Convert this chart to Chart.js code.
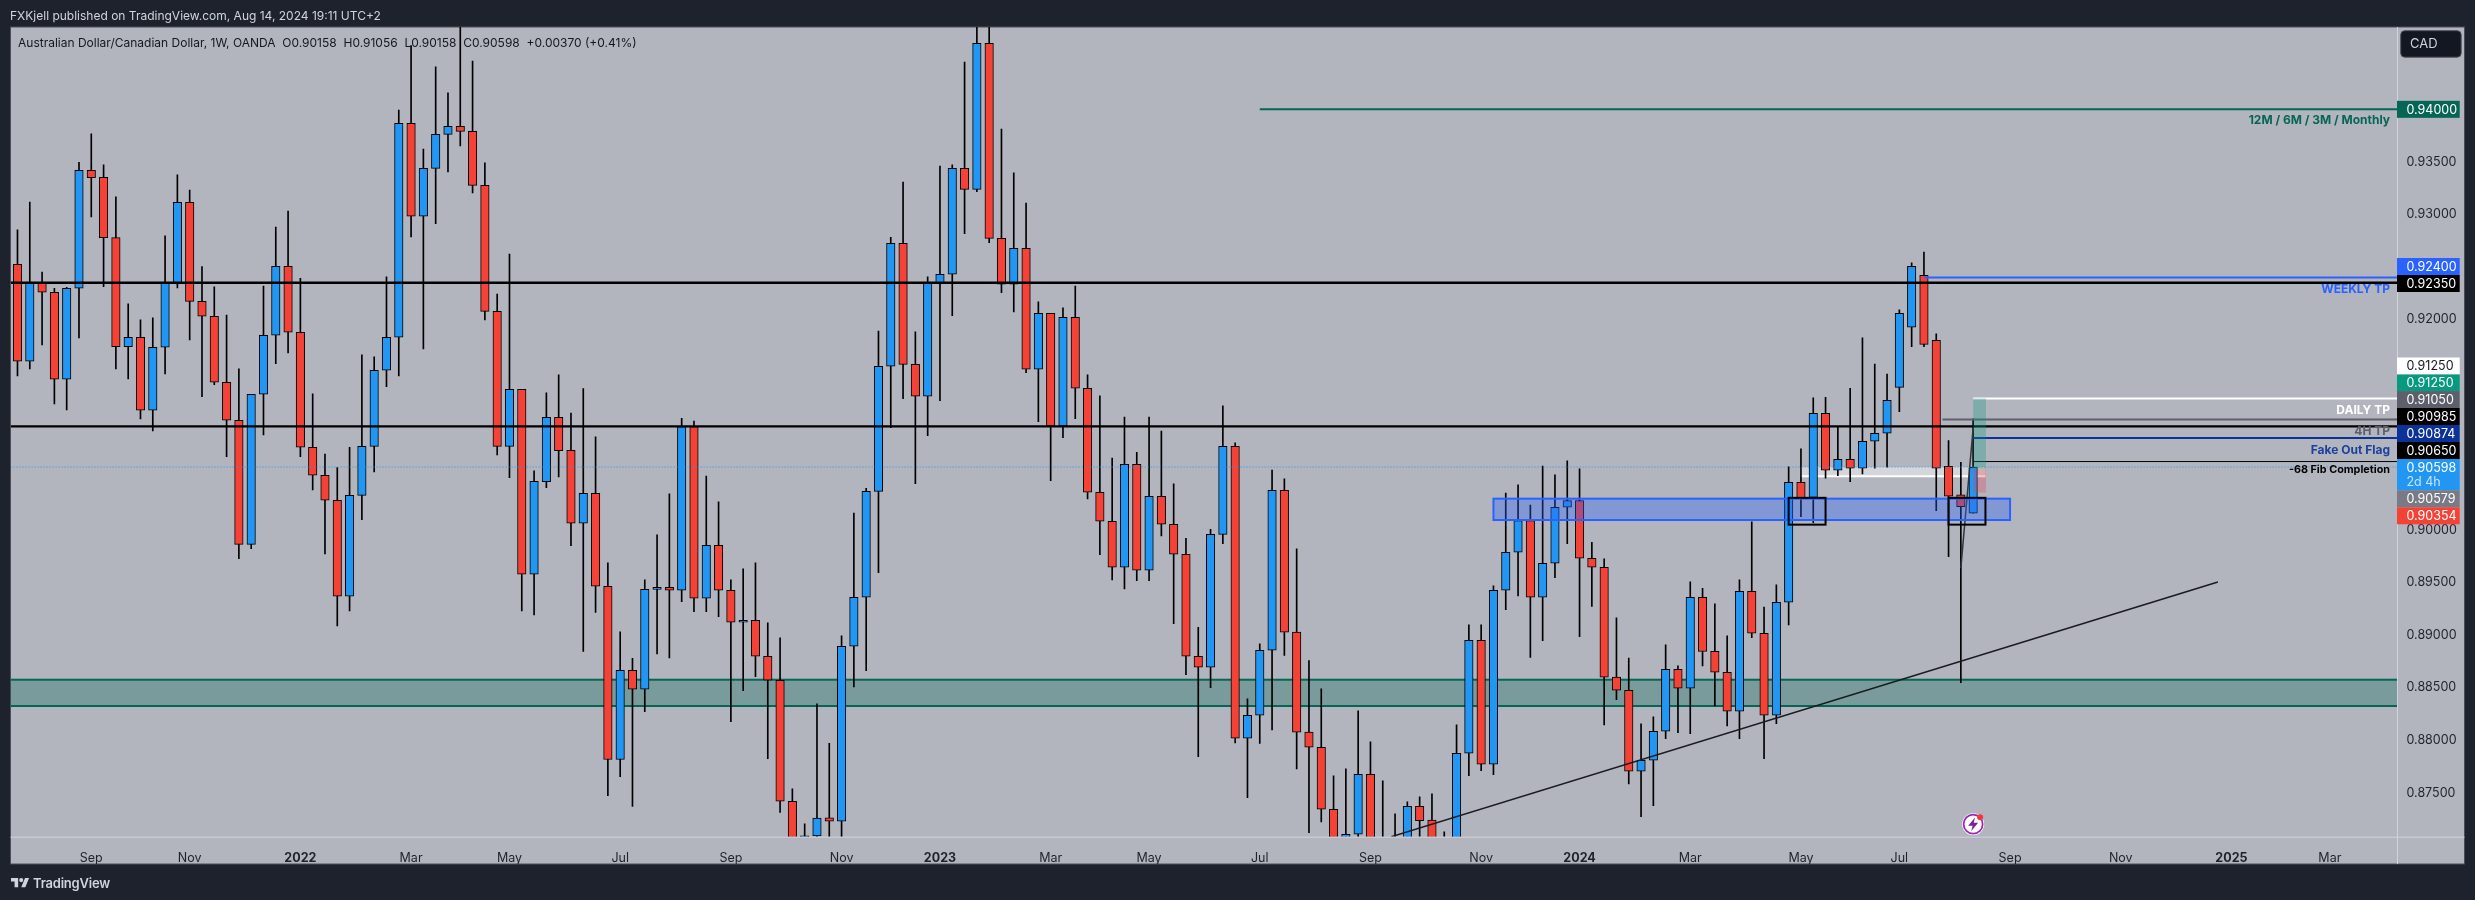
<!DOCTYPE html>
<html><head><meta charset="utf-8"><title>AUDCAD</title>
<script src="https://cdn.jsdelivr.net/npm/chart.js@4/dist/chart.umd.min.js"></script>
<style>
html,body{margin:0;padding:0;background:#1e222d;width:2475px;height:900px;overflow:hidden}
canvas{position:absolute;left:0;top:0}
.t{position:absolute;white-space:pre;font-family:Inter,sans-serif;line-height:16px}
#pub{left:10px;top:8px;font-size:12px;color:#d1d4dc}
#leg{left:18px;top:35px;font-size:12px;color:#131722}
#brand{left:33px;top:875px;font-size:13px;font-weight:600;color:#d1d4dc;letter-spacing:-.2px}
#logo{position:absolute;left:10.6px;top:875.6px}
</style></head><body>
<canvas id="c" width="2475" height="900"></canvas>
<div class="t" id="pub">FXKjell published on TradingView.com, Aug 14, 2024 19:11 UTC+2</div>
<div class="t" id="leg">Australian Dollar/Canadian Dollar, 1W, OANDA  O0.90158  H0.91056  L0.90158  C0.90598  +0.00370 (+0.41%)</div>
<svg id="logo" width="18.4" height="14.3" viewBox="0 0 36 28"><path fill="#d1d4dc" d="M14 22H7V11H0V4h14v18zM28 22h-8l7.5-18h8L28 22z"/><circle fill="#d1d4dc" cx="20" cy="8" r="4"/></svg>
<div class="t" id="brand">TradingView</div>
<script>
const opens=[.92526,.91604,.92345,.92260,.91433,.92298,.93420,.93354,.92780,.91743,.91832,.91138,.91737,.92345,.93116,.92174,.92032,.91404,.91043,.89863,
.91290,.91851,.92507,.91880,.90786,.90520,.90282,.89369,.90329,.90795,.91518,.91832,.93867,.92983,.93439,.93762,.93839,.93791,.93277,.92079,
.90795,.91337,.89578,.90459,.91071,.90757,.90063,.90348,.89464,.87816,.88665,.88484,.89435,.89454,.89426,.90982,.89350,.89854,.89426,.89122,
.89141,.88798,.88570,.87419,.87077,.87090,.87261,.87229,.88893,.89359,.90367,.91556,.92726,.91575,.91271,.92345,.92431,.93439,.93239,.94628,
.92773,.92336,.92678,.91528,.92060,.90989,.92022,.91347,.90358,.90082,.89645,.90624,.89616,.90320,.90054,.89768,.88798,.88694,.89958,.90795,
.88018,.88237,.88855,.90377,.89027,.88076,.87933,.87343,.87052,.87105,.87676,.86988,.86925,.87000,.87372,.87239,.87020,.86990,.87876,.88950,
.87771,.89426,.89787,.90088,.89359,.89683,.90215,.90279,.89730,.89645,.88599,.88475,.87705,.87809,.88085,.88675,.88494,.89359,.88846,.88646,
.88275,.89416,.89017,.88237,.89312,.90453,.90310,.91109,.90567,.90672,.90586,.90843,.90919,.91356,.91927,.92422,.91803,.90605,.90333,.90158];
const highs=[.92853,.93119,.92453,.92298,.92307,.93496,.93766,.93471,.93167,.92149,.91997,.92016,.92796,.93376,.93233,.92504,.92311,.92044,.91531,.91290,
.92320,.92881,.93033,.92393,.91293,.90722,.90592,.90786,.91664,.91645,.92406,.93994,.94606,.93623,.94403,.94156,.94900,.94460,.93490,.92244,
.92624,.91337,.90561,.91303,.91474,.91112,.91344,.90884,.89686,.89030,.88779,.89524,.89952,.90342,.91062,.91036,.90513,.90266,.89524,.89629,
.89686,.89115,.88973,.87537,.87204,.88345,.87971,.88992,.90161,.90396,.91892,.92783,.93309,.91883,.92406,.93461,.93471,.94450,.94850,.94900,
.93813,.93395,.93109,.92168,.92060,.92111,.92320,.91474,.91274,.90684,.91074,.90738,.91074,.90941,.90437,.89920,.89074,.90006,.91179,.90827,
.88393,.88916,.90570,.90485,.89819,.88757,.88488,.87660,.87727,.88278,.87984,.87613,.87299,.87413,.87461,.87489,.87128,.88145,.89096,.89096,
.89467,.90351,.90428,.90237,.90608,.90523,.90656,.90580,.89882,.89724,.89163,.88782,.88155,.88221,.88906,.88706,.89505,.89445,.89296,.88992,
.89524,.90076,.89267,.89477,.90599,.90770,.91255,.91261,.90982,.91347,.91826,.91578,.91483,.92092,.92539,.92643,.91864,.90849,.90643,.91056];
const lows=[.91464,.91531,.91759,.91198,.91141,.91826,.92976,.92314,.91531,.91436,.91055,.90941,.91483,.92301,.91807,.91268,.91382,.90697,.89727,.89822,
.90903,.91582,.91683,.90697,.90380,.89771,.89087,.89229,.90098,.90551,.91363,.91464,.92786,.91721,.92913,.93404,.93652,.93205,.91997,.90713,
.90497,.89229,.89191,.90402,.90504,.89851,.88843,.89214,.87473,.87654,.87369,.88272,.88820,.88782,.89318,.89223,.89223,.89175,.88177,.88472,
.88605,.87825,.87312,.86956,.86956,.86988,.86988,.86988,.88507,.88662,.89594,.90973,.91249,.90440,.90897,.91230,.92038,.92818,.93217,.92732,
.92257,.92073,.91496,.91030,.90469,.90878,.91058,.90295,.89765,.89524,.89439,.89518,.89518,.89943,.89109,.88624,.87844,.88500,.89870,.87974,
.87454,.87968,.88098,.88805,.87727,.87121,.87223,.86925,.86988,.87020,.86925,.86861,.86861,.86900,.86950,.86900,.86900,.86900,.87663,.87711,
.87673,.89242,.89372,.88786,.88947,.89546,.89870,.88985,.89271,.88145,.88386,.87584,.87273,.87378,.88015,.88072,.88063,.88706,.88326,.88136,
.88015,.88976,.87825,.88158,.89096,.90126,.90069,.90491,.90516,.90459,.90532,.90586,.90596,.91125,.91743,.91743,.90184,.89746,.88548,.90158];
const closes=[.91604,.92345,.92260,.91433,.92298,.93420,.93350,.92780,.91743,.91832,.91138,.91737,.92345,.93116,.92174,.92032,.91404,.91043,.89863,.91290,
.91851,.92507,.91880,.90786,.90520,.90282,.89369,.90329,.90795,.91518,.91832,.93867,.92983,.93439,.93762,.93839,.93791,.93277,.92079,.90795,
.91337,.89578,.90463,.91071,.90754,.90063,.90348,.89464,.87816,.88665,.88484,.89435,.89454,.89426,.90982,.89350,.89854,.89426,.89122,.89141,
.88798,.88570,.87419,.87052,.87090,.87258,.87229,.88893,.89359,.90367,.91556,.92726,.91575,.91271,.92345,.92431,.93439,.93239,.94628,.92773,
.92336,.92678,.91528,.92060,.90989,.92022,.91347,.90358,.90082,.89645,.90624,.89616,.90320,.90054,.89768,.88798,.88694,.89958,.90795,.88018,
.88237,.88855,.90377,.89027,.88076,.87933,.87343,.87052,.87105,.87676,.86988,.86925,.87000,.87372,.87235,.87020,.86990,.87876,.88950,.87771,
.89426,.89787,.90088,.89359,.89683,.90215,.90279,.89730,.89645,.88599,.88475,.87705,.87809,.88085,.88675,.88494,.89359,.88843,.88646,.88275,
.89416,.89017,.88237,.89312,.90453,.90304,.91109,.90567,.90672,.90586,.90843,.90919,.91233,.92060,.92507,.91765,.90586,.90320,.90222,.90598];

const xTickPositions=[6,14,23,32,40,49,58,67,75,84,92,101,110,119,127,136,145,153,162,171,180,188];
const xTickLabels=['Sep','Nov','2022','Mar','May','Jul','Sep','Nov','2023','Mar','May','Jul','Sep','Nov','2024','Mar','May','Jul','Sep','Nov','2025','Mar'];
const yTickValues=[0.875,0.88,0.885,0.89,0.895,0.90,0.92,0.93,0.935];

const supportZone=[0.88575,0.88325];
const flagZone=[120,162,0.90297,0.90094];
const marksBoxes=[[144,147,0.90305,0.9005],[157,160,0.90305,0.9005]];
const whiteZone=[145,160,0.90598,0.9051];
const positionTool=[159,160,0.9125,0.90579,0.90354];

const xMin=-0.56,xMax=193.46,yMin=0.87082,yMax=0.94783;
// start week, end week, price
const levels=[
 {name:'monthly',from:101,to:xMax,y:0.94,color:'#056656',w:2},
 {name:'weeklyTP',from:155,to:xMax,y:0.924,color:'#2962ff',w:2},
 {name:'upper',from:xMin,to:xMax,y:0.9235,color:'#000000',w:2.4},
 {name:'dailyTP',from:159,to:xMax,y:0.9125,color:'#ffffff',w:2},
 {name:'4hTP',from:156.5,to:xMax,y:0.9105,color:'#5d606b',w:2},
 {name:'lower',from:xMin,to:xMax,y:0.90985,color:'#000000',w:2.4},
 {name:'flag',from:159,to:xMax,y:0.90874,color:'#0c3299',w:2},
 {name:'fib',from:159,to:xMax,y:0.9065,color:'#000000',w:1}
];
const trendLine=[[111.7,0.87082],[178.9,0.89504]];
const spikeLine=[[159,0.90969],[158,0.89637]];
const lastPrice=0.90598;

const levelNotes=[
 ['12M / 6M / 3M / Monthly',0.94,'#056656'],['WEEKLY TP',0.924,'#2962ff'],['DAILY TP',0.9125,'#ffffff'],
 ['4H TP',0.9105,'#5d606b'],['Fake Out Flag',0.90874,'#1e3f9e'],['-68 Fib Completion',0.9065,'#000000']
];
const noteGap=[11,11.5,11.5,12,12,8];
const priceTags=[
 ['0.92400','#2962ff','#fff'],['0.92350','#000','#fff'],
 ['0.91250','#fff','#131722'],['0.91250','#089981','#fff'],['0.91050','#5d606b','#fff'],['0.90985','#000','#fff'],
 ['0.90874','#0c3299','#fff'],['0.90650','#000','#fff'],['0.90598','#2196f3','#fff'],
 ['0.90579','#787b86','#fff'],['0.90354','#f44336','#fff']
];
const tagRows=[266.5,283.5,366,383,399.6,416.5,433.5,450.5,467.5,498.7,515.8];

const n=opens.length, idx=Array.from(opens.keys());
const UP='#2196f3',DOWN='#f44336';
const FONT='Inter, sans-serif';

const chrome={
 id:'chrome',
 beforeDraw(ch){const c=ch.ctx;
  c.save();c.fillStyle='#b2b5be';c.fillRect(10.5,27,2454,837);
  c.strokeStyle='#4a4e5a';c.lineWidth=1;c.strokeRect(10.5,27,2454,837);c.restore();},
 beforeDatasetsDraw(ch){const c=ch.ctx,a=ch.chartArea,X=ch.scales.x,Y=ch.scales.y;
  c.save();c.beginPath();c.rect(a.left,a.top,a.width,a.height);c.clip();
  const zt=Y.getPixelForValue(supportZone[0]),zb=Y.getPixelForValue(supportZone[1]);
  c.fillStyle='rgba(5,102,86,.33)';c.fillRect(a.left,zt,a.width,zb-zt);
  c.fillStyle='#056656';c.fillRect(a.left,zt-1,a.width,2);c.fillRect(a.left,zb-1,a.width,2);
  const wl=X.getPixelForValue(whiteZone[0]),wr=X.getPixelForValue(whiteZone[1]),wt=Y.getPixelForValue(whiteZone[2]),wb=Y.getPixelForValue(whiteZone[3]);
  c.fillStyle='rgba(255,255,255,.45)';c.fillRect(wl,wt,wr-wl,wb-wt);
  c.fillStyle='#fff';c.fillRect(wl,wb-1,wr-wl,2);c.fillRect(wl-1,wt,2,wb-wt);
  c.restore();},
 afterDatasetsDraw(ch){const c=ch.ctx,a=ch.chartArea,X=ch.scales.x,Y=ch.scales.y;
  c.save();c.beginPath();c.rect(a.left,a.top,a.width,a.height);c.clip();
  // position tool
  const pl=X.getPixelForValue(positionTool[0]),pr=X.getPixelForValue(positionTool[1])+0.5;
  const p1=Y.getPixelForValue(positionTool[2]),p2=Y.getPixelForValue(positionTool[3]),p3=Y.getPixelForValue(positionTool[4]);
  c.fillStyle='rgba(8,153,129,.3)';c.fillRect(pl,p1,pr-pl,p2-p1);
  c.fillStyle='rgba(242,54,69,.28)';c.fillRect(pl,p2,pr-pl,p3-p2);
  // flag zone
  const bl=X.getPixelForValue(flagZone[0]),br=X.getPixelForValue(flagZone[1]),bt=Y.getPixelForValue(flagZone[2]),bb=Y.getPixelForValue(flagZone[3]);
  c.fillStyle='rgba(41,98,255,.35)';c.fillRect(bl,bt,br-bl,bb-bt);
  c.strokeStyle='#2962ff';c.lineWidth=2;c.strokeRect(bl,bt,br-bl,bb-bt);
  // boxes
  c.strokeStyle='#000';c.lineWidth=2;
  marksBoxes.forEach(b=>{const l=X.getPixelForValue(b[0]),r=X.getPixelForValue(b[1]),t=Y.getPixelForValue(b[2]),d=Y.getPixelForValue(b[3]);
    c.strokeRect(l,t,r-l,d-t);});
  // level notes
  c.textAlign='right';c.textBaseline='middle';
  levelNotes.forEach((m,i)=>{c.font=(i==5?'700 10.8px ':'700 12px ')+FONT;c.fillStyle=m[2];
    c.fillText(m[0],2390,Y.getPixelForValue(m[1])+noteGap[i]);});
  // event icon
  const ix=X.getPixelForValue(n-1),iy=a.bottom-12.5;
  c.beginPath();c.arc(ix,iy,11,0,7);c.fillStyle='#fff';c.fill();
  c.beginPath();c.arc(ix,iy,9.5,0,7);c.strokeStyle='#9c27b0';c.lineWidth=1.8;c.stroke();
  c.beginPath();c.moveTo(ix+2,iy-7);c.lineTo(ix-5,iy+1.5);c.lineTo(ix-.5,iy+1.5);c.lineTo(ix-2,iy+7);c.lineTo(ix+5,iy-1.5);c.lineTo(ix+.5,iy-1.5);c.closePath();c.fillStyle='#7b1fa2';c.fill();
  c.beginPath();c.arc(ix+7,iy-7,3,0,7);c.fillStyle='#f23645';c.fill();
  c.restore();
 },
 afterDraw(ch){const c=ch.ctx,a=ch.chartArea,Y=ch.scales.y;
  c.save();
  c.strokeStyle='#d1d4dc';c.lineWidth=1;
  c.beginPath();c.moveTo(10.5,a.bottom+.5);c.lineTo(2464.5,a.bottom+.5);c.moveTo(a.right+.5,27);c.lineTo(a.right+.5,864);c.stroke();
  c.font='12.5px '+FONT;c.textAlign='left';c.textBaseline='middle';
  // price tags
  const tag=(txt,bg,fg,yc,h)=>{c.fillStyle=bg;c.fillRect(a.right,yc-8.5,62.7,h||17);c.fillStyle=fg;c.fillText(txt,a.right+9.5,yc+.5);};
  tag('0.94000','#056656','#fff',Y.getPixelForValue(0.94),17);
  priceTags.forEach((t,i)=>tag(t[0],t[1],t[2],tagRows[i],t[0]=='0.90598'?31:17));
  c.fillStyle='rgba(255,255,255,.75)';c.fillText('2d 4h',a.right+9.5,482.5);
  // currency button
  c.fillStyle='#131722';c.strokeStyle='#50535e';c.beginPath();c.roundRect(2400.7,30.7,60.5,26.5,4);c.fill();c.stroke();
  c.fillStyle='#d1d4dc';c.font='13px '+FONT;c.fillText('CAD',2410,44);
  c.restore();
 }
};

new Chart(document.getElementById('c'),{
 type:'bar',
 plugins:[chrome],
 data:{datasets:[
  {label:'Body',order:3,grouped:false,barThickness:8.5,borderWidth:1,borderColor:'#000',borderSkipped:false,
   backgroundColor:idx.map(i=>closes[i]>=opens[i]?UP:DOWN),
   data:idx.map(i=>({x:i,y:[opens[i],closes[i]]}))},
  {label:'Wick',order:4,grouped:false,barThickness:1,borderWidth:0,backgroundColor:'#000',
   data:idx.map(i=>({x:i,y:[lows[i],highs[i]]}))},
  ...levels.map(l=>({type:'line',label:l.name,order:1,borderColor:l.color,borderWidth:l.w,pointRadius:0,
    data:[{x:l.from,y:l.y},{x:l.to,y:l.y}]})),
  {type:'line',label:'Last',order:2,borderColor:'#2196f3',borderWidth:1,borderDash:[1,2],pointRadius:0,
    data:[{x:xMin,y:lastPrice},{x:xMax,y:lastPrice}]},
  {type:'line',label:'Trend',order:1,borderColor:'#1a1a1f',borderWidth:1.5,pointRadius:0,
    data:trendLine.map(p=>({x:p[0],y:p[1]}))},
  {type:'line',label:'Spike',order:1,borderColor:'#33353c',borderWidth:1.5,pointRadius:0,
    data:spikeLine.map(p=>({x:p[0],y:p[1]}))}
 ]},
 options:{
  responsive:false,devicePixelRatio:1,animation:false,
  layout:{padding:{left:10.6,right:10.4,top:27,bottom:36}},
  plugins:{legend:{display:false},tooltip:{enabled:false},title:{display:false}},
  scales:{
   x:{type:'linear',offset:false,min:xMin,max:xMax,
    grid:{display:false,offset:false},border:{display:false},
    afterBuildTicks(s){s.ticks=xTickPositions.map(v=>({value:v}));},
    afterFit(s){s.height=27.3;},
    ticks:{autoSkip:false,maxRotation:0,padding:6,color:'#1e222d',
     font(ctx){const l=ctx.tick&&xTickLabels[xTickPositions.indexOf(ctx.tick.value)];
       return {family:FONT,size:12.5,weight:/^\d/.test(l||'')?'700':'400'};},
     callback(v){return xTickLabels[xTickPositions.indexOf(v)];}}
   },
   y:{type:'linear',position:'right',min:yMin,max:yMax,
    grid:{display:false,drawTicks:false},border:{display:false},
    afterBuildTicks(s){s.ticks=yTickValues.map(v=>({value:v}));},
    afterFit(s){s.width=67.6;},
    ticks:{padding:9.5,color:'#1e222d',font:{family:FONT,size:12.5},callback(v){return v.toFixed(5);}}
   }
  }
 }
});
</script>
</body></html>
